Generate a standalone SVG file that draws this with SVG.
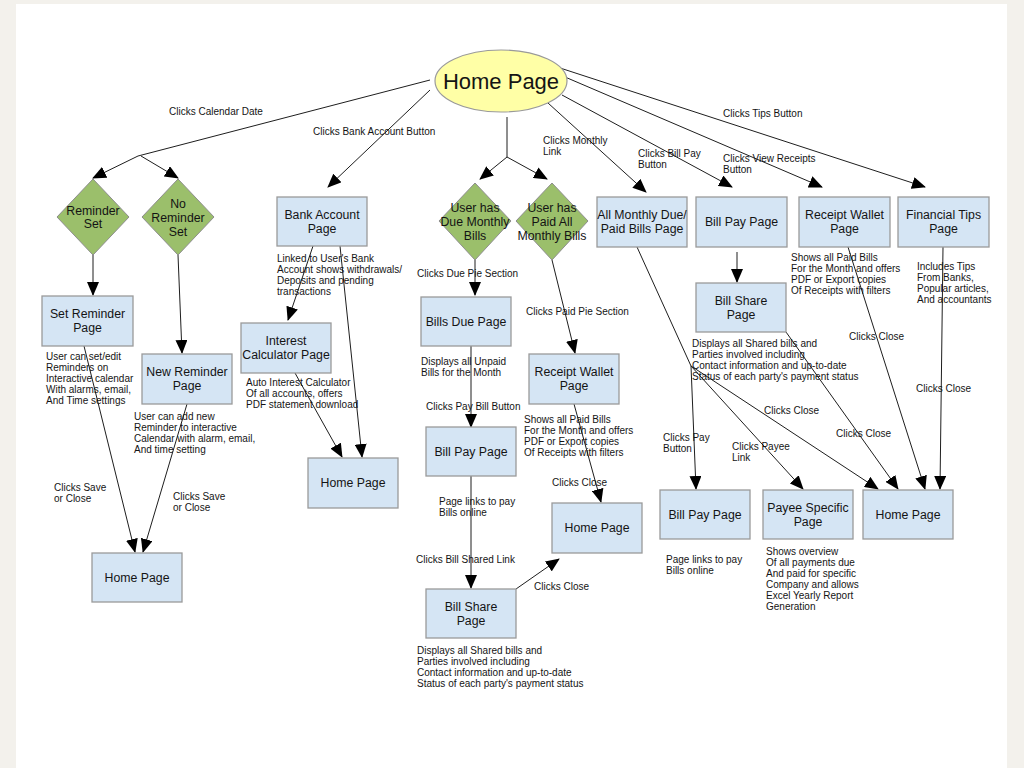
<svg xmlns="http://www.w3.org/2000/svg" width="1024" height="768" viewBox="0 0 1024 768">
<style>
.bg{fill:#f3f1ec}
.page{fill:#ffffff}
.box{fill:#d5e5f4;stroke:#9a9a9a;stroke-width:1.3}
.dia{fill:#9bbf6b;stroke:#8e8e8e;stroke-width:1}
.ell{fill:#ffffa6;stroke:#9a9a9a;stroke-width:1.2}
text{font-family:"Liberation Sans",Arial,sans-serif;fill:#141414}
.t{font-size:12.3px;text-anchor:middle}
.big{font-size:22px;text-anchor:middle}
.n{font-size:10px}
.c line,.c polyline{stroke:#1e1e1e;stroke-width:1;fill:none}
.a{marker-end:url(#arr)}
</style>
<defs>
<marker id="arr" markerUnits="userSpaceOnUse" markerWidth="14" markerHeight="12" refX="13" refY="6" orient="auto">
<path d="M0,0 L14,6 L0,12 z" fill="#000"/>
</marker>
</defs>
<rect class="bg" x="0" y="0" width="1024" height="768"/>
<rect class="page" x="16" y="4" width="991" height="764"/>

<g class="c" id="connectors">
<polyline points="430,80 138,156"/>
<line class="a" x1="138" y1="156" x2="93" y2="178"/>
<line class="a" x1="141" y1="156" x2="178" y2="178"/>
<line class="a" x1="430" y1="90" x2="328" y2="187"/>
<line x1="507" y1="117" x2="507" y2="157"/>
<line class="a" x1="507" y1="157" x2="480" y2="179"/>
<line class="a" x1="507" y1="157" x2="547" y2="179"/>
<line class="a" x1="548" y1="103" x2="646" y2="192"/>
<line class="a" x1="562" y1="95" x2="732" y2="187"/>
<line class="a" x1="565" y1="77" x2="822" y2="187"/>
<line class="a" x1="557" y1="67" x2="925" y2="187"/>
<line class="a" x1="93" y1="255" x2="93" y2="295"/>
<line class="a" x1="178" y1="255" x2="182" y2="353"/>
<line class="a" x1="84" y1="346" x2="135" y2="552"/>
<line class="a" x1="187" y1="404" x2="143" y2="552"/>
<line class="a" x1="313" y1="246" x2="288" y2="320"/>
<line class="a" x1="340" y1="246" x2="362" y2="457"/>
<line class="a" x1="295" y1="373" x2="342" y2="457"/>
<line class="a" x1="475" y1="260" x2="475" y2="295"/>
<line class="a" x1="552" y1="260" x2="575" y2="353"/>
<line class="a" x1="471" y1="346" x2="471" y2="427"/>
<line class="a" x1="574" y1="404" x2="601" y2="502"/>
<line class="a" x1="471" y1="476" x2="471" y2="588"/>
<line class="a" x1="516" y1="589" x2="559" y2="559"/>
<line x1="637" y1="247" x2="691" y2="366"/>
<line class="a" x1="691" y1="366" x2="696" y2="489"/>
<line class="a" x1="691" y1="366" x2="803" y2="489"/>
<line class="a" x1="691" y1="366" x2="878" y2="489"/>
<line class="a" x1="737" y1="252" x2="737" y2="282"/>
<line class="a" x1="786" y1="332" x2="898" y2="489"/>
<line class="a" x1="848" y1="247" x2="925" y2="489"/>
<line class="a" x1="943" y1="247" x2="940" y2="489"/>
</g>

<g id="labels">
<text class="n" x="169" y="114.5">Clicks Calendar Date</text>
<text class="n" x="313" y="134.5">Clicks Bank Account Button</text>
<text class="n" x="543" y="143.5">Clicks Monthly</text>
<text class="n" x="543" y="154.5">Link</text>
<text class="n" x="638" y="156.5">Clicks Bill Pay</text>
<text class="n" x="638" y="167.5">Button</text>
<text class="n" x="723" y="161.5">Clicks View Receipts</text>
<text class="n" x="723" y="172.5">Button</text>
<text class="n" x="723" y="116.5">Clicks Tips Button</text>
<text class="n" x="54" y="490.5">Clicks Save</text>
<text class="n" x="54" y="501.5">or Close</text>
<text class="n" x="173" y="499.5">Clicks Save</text>
<text class="n" x="173" y="510.5">or Close</text>
<text class="n" x="417" y="276.5">Clicks Due Pie Section</text>
<text class="n" x="526" y="314.5">Clicks Paid Pie Section</text>
<text class="n" x="426" y="409.5">Clicks Pay Bill Button</text>
<text class="n" x="552" y="485.5">Clicks Close</text>
<text class="n" x="416" y="562.5">Clicks Bill Shared Link</text>
<text class="n" x="534" y="589.5">Clicks Close</text>
<text class="n" x="849" y="339.5">Clicks Close</text>
<text class="n" x="916" y="391.5">Clicks Close</text>
<text class="n" x="764" y="413.5">Clicks Close</text>
<text class="n" x="836" y="436.5">Clicks Close</text>
<text class="n" x="663" y="440.5">Clicks Pay</text>
<text class="n" x="663" y="451.5">Button</text>
<text class="n" x="732" y="449.5">Clicks Payee</text>
<text class="n" x="732" y="460.5">Link</text>
</g>

<g id="notes">
<text class="n" x="46"><tspan x="46" y="359.5">User can set/edit</tspan><tspan x="46" y="370.7">Reminders on</tspan><tspan x="46" y="381.9">Interactive calendar</tspan><tspan x="46" y="393.1">With alarms, email,</tspan><tspan x="46" y="404.3">And Time settings</tspan></text>
<text class="n" x="134"><tspan x="134" y="419.5">User can add new</tspan><tspan x="134" y="430.7">Reminder to interactive</tspan><tspan x="134" y="441.9">Calendar with alarm, email,</tspan><tspan x="134" y="453.1">And time setting</tspan></text>
<text class="n" x="277"><tspan x="277" y="261.5">Linked to User's Bank</tspan><tspan x="277" y="272.7">Account shows withdrawals/</tspan><tspan x="277" y="283.9">Deposits and pending</tspan><tspan x="277" y="295.1">transactions</tspan></text>
<text class="n" x="246"><tspan x="246" y="385.5">Auto Interest Calculator</tspan><tspan x="246" y="396.5">Of all accounts, offers</tspan><tspan x="246" y="407.5">PDF statement download</tspan></text>
<text class="n" x="421"><tspan x="421" y="364.5">Displays all Unpaid</tspan><tspan x="421" y="375.5">Bills for the Month</tspan></text>
<text class="n" x="524"><tspan x="524" y="422.5">Shows all Paid Bills</tspan><tspan x="524" y="433.7">For the Month and offers</tspan><tspan x="524" y="444.9">PDF or Export copies</tspan><tspan x="524" y="456.1">Of Receipts with filters</tspan></text>
<text class="n" x="439"><tspan x="439" y="504.5">Page links to pay</tspan><tspan x="439" y="515.5">Bills online</tspan></text>
<text class="n" x="417"><tspan x="417" y="653.5">Displays all Shared bills and</tspan><tspan x="417" y="664.7">Parties involved including</tspan><tspan x="417" y="675.9">Contact information and up-to-date</tspan><tspan x="417" y="687.1">Status of each party's payment status</tspan></text>
<text class="n" x="791"><tspan x="791" y="260.5">Shows all Paid Bills</tspan><tspan x="791" y="271.8">For the Month and offers</tspan><tspan x="791" y="283.1">PDF or Export copies</tspan><tspan x="791" y="294.4">Of Receipts with filters</tspan></text>
<text class="n" x="917"><tspan x="917" y="269.5">Includes Tips</tspan><tspan x="917" y="280.5">From Banks,</tspan><tspan x="917" y="291.5">Popular articles,</tspan><tspan x="917" y="302.5">And accountants</tspan></text>
<text class="n" x="692"><tspan x="692" y="346.5">Displays all Shared bills and</tspan><tspan x="692" y="357.8">Parties involved including</tspan><tspan x="692" y="369.1">Contact information and up-to-date</tspan><tspan x="692" y="380.4">Status of each party's payment status</tspan></text>
<text class="n" x="666"><tspan x="666" y="562.5">Page links to pay</tspan><tspan x="666" y="573.5">Bills online</tspan></text>
<text class="n" x="766"><tspan x="766" y="554.5">Shows overview</tspan><tspan x="766" y="565.5">Of all payments due</tspan><tspan x="766" y="576.5">And paid for specific</tspan><tspan x="766" y="587.5">Company and allows</tspan><tspan x="766" y="598.5">Excel Yearly Report</tspan><tspan x="766" y="609.5">Generation</tspan></text>
</g>

<g id="home-main"><ellipse class="ell" cx="501" cy="81" rx="66" ry="31"/><text class="big" x="501" y="89">Home Page</text></g>

<g id="reminder-set"><polygon class="dia" points="93,179 129,217 93,255 57,217"/><text class="t" x="93" y="215.4">Reminder</text><text class="t" x="93" y="228.4">Set</text></g>
<g id="no-reminder-set"><polygon class="dia" points="178,179 214,217 178,255 142,217"/><text class="t" x="178" y="208.4">No</text><text class="t" x="178" y="222.4">Reminder</text><text class="t" x="178" y="236.4">Set</text></g>
<g id="due-bills"><polygon class="dia" points="475,183 511,221 475,260 439,221"/><text class="t" x="475" y="212.4">User has</text><text class="t" x="475" y="226.4">Due Monthly</text><text class="t" x="475" y="240.4">Bills</text></g>
<g id="paid-bills"><polygon class="dia" points="552,183 588,221 552,260 516,221"/><text class="t" x="552" y="212.4">User has</text><text class="t" x="552" y="226.4">Paid All</text><text class="t" x="552" y="240.4">Monthly Bills</text></g>

<g id="set-reminder"><rect class="box" x="42" y="296" width="91" height="50"/><text class="t" x="87.5" y="318.4">Set Reminder</text><text class="t" x="87.5" y="332.4">Page</text></g>
<g id="new-reminder"><rect class="box" x="142" y="354" width="90" height="50"/><text class="t" x="187" y="376.4">New Reminder</text><text class="t" x="187" y="390.4">Page</text></g>
<g id="home-left"><rect class="box" x="92" y="553" width="90" height="49"/><text class="t" x="137" y="582">Home Page</text></g>
<g id="bank-account"><rect class="box" x="277" y="197" width="90" height="49"/><text class="t" x="322" y="219.4">Bank Account</text><text class="t" x="322" y="233.4">Page</text></g>
<g id="interest-calc"><rect class="box" x="241" y="323" width="90" height="50"/><text class="t" x="286" y="345.4">Interest</text><text class="t" x="286" y="359.4">Calculator Page</text></g>
<g id="home-bank"><rect class="box" x="308" y="458" width="90" height="50"/><text class="t" x="353" y="487.4">Home Page</text></g>
<g id="bills-due"><rect class="box" x="421" y="297" width="90" height="49"/><text class="t" x="466" y="325.9">Bills Due Page</text></g>
<g id="bill-pay-center"><rect class="box" x="426" y="427" width="90" height="49"/><text class="t" x="471" y="455.9">Bill Pay Page</text></g>
<g id="bill-share-center"><rect class="box" x="426" y="589" width="90" height="49"/><text class="t" x="471" y="610.9">Bill Share</text><text class="t" x="471" y="624.9">Page</text></g>
<g id="receipt-wallet-center"><rect class="box" x="529" y="354" width="90" height="50"/><text class="t" x="574" y="376.4">Receipt Wallet</text><text class="t" x="574" y="390.4">Page</text></g>
<g id="home-center"><rect class="box" x="552" y="503" width="90" height="50"/><text class="t" x="597" y="532.4">Home Page</text></g>
<g id="all-monthly"><rect class="box" x="597" y="197" width="90" height="50"/><text class="t" x="642" y="219.4">All Monthly Due/</text><text class="t" x="642" y="233.4">Paid Bills Page</text></g>
<g id="bill-pay-top"><rect class="box" x="696" y="197" width="91" height="50"/><text class="t" x="741.5" y="226.4">Bill Pay Page</text></g>
<g id="receipt-wallet-top"><rect class="box" x="799" y="197" width="91" height="50"/><text class="t" x="844.5" y="219.4">Receipt Wallet</text><text class="t" x="844.5" y="233.4">Page</text></g>
<g id="financial-tips"><rect class="box" x="898" y="197" width="91" height="50"/><text class="t" x="943.5" y="219.4">Financial Tips</text><text class="t" x="943.5" y="233.4">Page</text></g>
<g id="bill-share-right"><rect class="box" x="696" y="283" width="90" height="49"/><text class="t" x="741" y="304.9">Bill Share</text><text class="t" x="741" y="318.9">Page</text></g>
<g id="bill-pay-bottom"><rect class="box" x="660" y="490" width="90" height="49"/><text class="t" x="705" y="518.9">Bill Pay Page</text></g>
<g id="payee-specific"><rect class="box" x="763" y="490" width="90" height="49"/><text class="t" x="808" y="511.9">Payee Specific</text><text class="t" x="808" y="525.9">Page</text></g>
<g id="home-right"><rect class="box" x="863" y="490" width="90" height="49"/><text class="t" x="908" y="518.9">Home Page</text></g>
</svg>
